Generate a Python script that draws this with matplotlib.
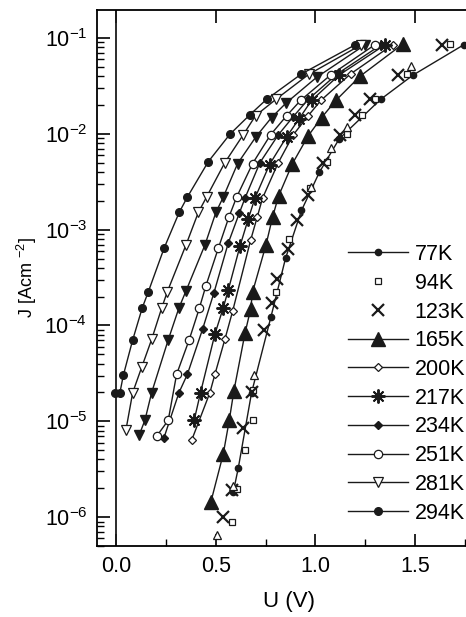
import matplotlib
matplotlib.use("Agg")
import matplotlib.pyplot as plt
from matplotlib.ticker import LogLocator, MultipleLocator, FixedLocator, NullFormatter

plt.rcParams["font.family"] = ["Liberation Sans", "DejaVu Sans"]
plt.rcParams["mathtext.default"] = "regular"

# J-U curves, voltage in V and log10 of current density in A/cm^2
u_294 = [-0.003, 0.02, 0.037, 0.084, 0.132, 0.162, 0.241, 0.317, 0.358, 0.463, 0.571, 0.672, 0.755, 0.93, 1.20]
lg_294 = [-4.70, -4.70, -4.52, -4.15, -3.815, -3.65, -3.195, -2.82, -2.66, -2.29, -2.005, -1.80, -1.64, -1.375, -1.07]

u_281 = [0.05, 0.084, 0.13, 0.179, 0.229, 0.257, 0.351, 0.413, 0.454, 0.546, 0.638, 0.70, 0.802, 0.966, 1.23]
lg_281 = [-5.09, -4.70, -4.43, -4.145, -3.82, -3.65, -3.16, -2.82, -2.66, -2.30, -2.01, -1.81, -1.64, -1.38, -1.07]

u_tri = [0.117, 0.145, 0.179, 0.262, 0.316, 0.351, 0.446, 0.501, 0.538, 0.61, 0.702, 0.78, 0.852, 1.006, 1.25]
lg_tri = [-5.14, -4.99, -4.70, -4.15, -3.815, -3.64, -3.16, -2.82, -2.66, -2.31, -2.03, -1.83, -1.68, -1.41, -1.07]

u_251 = [0.204, 0.262, 0.304, 0.367, 0.418, 0.451, 0.513, 0.566, 0.605, 0.685, 0.775, 0.856, 0.926, 1.076, 1.298]
lg_251 = [-5.155, -4.99, -4.51, -4.15, -3.82, -3.585, -3.195, -2.87, -2.66, -2.31, -2.01, -1.81, -1.65, -1.386, -1.07]

u_234 = [0.241, 0.316, 0.358, 0.434, 0.491, 0.563, 0.618, 0.647, 0.722, 0.814, 0.889, 0.964, 1.109, 1.33]
lg_234 = [-5.17, -4.70, -4.51, -4.04, -3.66, -3.14, -2.83, -2.67, -2.30, -2.01, -1.82, -1.64, -1.375, -1.07]

u_217 = [0.392, 0.424, 0.496, 0.538, 0.563, 0.622, 0.663, 0.697, 0.770, 0.856, 0.919, 0.981, 1.119, 1.35]
lg_217 = [-4.99, -4.70, -4.09, -3.815, -3.63, -3.17, -2.89, -2.67, -2.32, -2.03, -1.84, -1.65, -1.386, -1.07]

u_200 = [0.379, 0.471, 0.496, 0.546, 0.585, 0.675, 0.708, 0.735, 0.814, 0.889, 0.964, 1.028, 1.176, 1.387]
lg_200 = [-5.20, -4.70, -4.51, -4.145, -3.85, -3.11, -2.87, -2.67, -2.30, -2.01, -1.81, -1.65, -1.375, -1.07]

u_165 = [0.476, 0.538, 0.568, 0.591, 0.647, 0.675, 0.685, 0.752, 0.785, 0.815, 0.885, 0.964, 1.031, 1.103, 1.223, 1.44]
lg_165 = [-5.84, -5.34, -4.99, -4.685, -4.08, -3.83, -3.65, -3.16, -2.87, -2.65, -2.31, -2.02, -1.83, -1.65, -1.40, -1.06]

u_123 = [0.538, 0.58, 0.638, 0.68, 0.743, 0.78, 0.805, 0.86, 0.91, 0.964, 1.039, 1.123, 1.198, 1.273, 1.415, 1.632]
lg_123 = [-6.00, -5.72, -5.07, -4.69, -4.05, -3.77, -3.51, -3.20, -2.90, -2.64, -2.30, -2.01, -1.80, -1.64, -1.386, -1.07]

u_94 = [0.580, 0.608, 0.647, 0.685, 0.688, 0.80, 0.87, 0.972, 1.056, 1.156, 1.232, 1.298, 1.457, 1.674]
lg_94 = [-6.05, -5.71, -5.30, -4.99, -4.67, -3.65, -3.10, -2.57, -2.29, -2.00, -1.80, -1.64, -1.38, -1.06]

u_77 = [0.588, 0.613, 0.68, 0.777, 0.85, 0.93, 1.02, 1.12, 1.327, 1.49, 1.744]
lg_77 = [-5.74, -5.49, -4.70, -3.91, -3.30, -2.80, -2.40, -2.05, -1.64, -1.386, -1.07]

u_open_tri = [0.505, 0.585, 0.693, 0.98, 1.08, 1.16, 1.48]
lg_open_tri = [-6.19, -5.68, -4.52, -2.55, -2.15, -1.93, -1.29]

temps = ["77K", "94K", "123K", "165K", "200K", "217K", "234K", "251K", "281K", "294K"]

y_ticks = [1e-6, 1e-5, 1e-4, 1e-3, 1e-2, 1e-1]
y_tick_labels = [r"$10^{-6}$", r"$10^{-5}$", r"$10^{-4}$", r"$10^{-3}$", r"$10^{-2}$", r"$10^{-1}$"]
x_ticks = [0.0, 0.5, 1.0, 1.5]
x_tick_labels = ["0.0", "0.5", "1.0", "1.5"]


def to_j(lg):
    return [10 ** v for v in lg]


fig = plt.figure(figsize=(4.66, 6.17), dpi=100)
ax = fig.add_axes([97 / 466, 71 / 617, 384 / 466, 536 / 617])

lc = "#1a1a1a"
common = dict(color=lc, lw=1.0)

ax.plot(u_77, to_j(lg_77), marker="o", ms=4.5, mfc=lc, mec=lc, label=temps[0], **common)
ax.plot(u_94, to_j(lg_94), ls="none", marker="s", ms=4.5, mfc="white", mec=lc, mew=0.9, label=temps[1])
ax.plot(u_123, to_j(lg_123), ls="none", marker="x", ms=9, mec=lc, mew=1.6, label=temps[2])
ax.plot(u_165, to_j(lg_165), marker="^", ms=10, mfc=lc, mec=lc, label=temps[3], **common)
ax.plot(u_200, to_j(lg_200), marker="D", ms=4.5, mfc="white", mec=lc, mew=0.9, label=temps[4], **common)
ax.plot(u_217, to_j(lg_217), marker=(8, 2, 0), ms=10, mec=lc, mew=1.4, label=temps[5], **common)
ax.plot(u_234, to_j(lg_234), marker="D", ms=4.5, mfc=lc, mec=lc, label=temps[6], **common)
ax.plot(u_251, to_j(lg_251), marker="o", ms=6, mfc="white", mec=lc, mew=0.9, label=temps[7], **common)
ax.plot(u_tri, to_j(lg_tri), marker="v", ms=7, mfc=lc, mec=lc, label="_nolegend_", **common)
ax.plot(u_281, to_j(lg_281), marker="v", ms=7, mfc="white", mec=lc, mew=0.9, label=temps[8], **common)
ax.plot(u_294, to_j(lg_294), marker="o", ms=5.5, mfc=lc, mec=lc, label=temps[9], **common)
ax.plot(u_open_tri, to_j(lg_open_tri), ls="none", marker="^", ms=6, mfc="white", mec=lc, mew=0.9,
        label="_nolegend_")

ax.axvline(0.0, color=lc, lw=1.3)

ax.set_yscale("log")
ax.set_xlim(-0.095, 1.83)
ax.set_ylim(5.0e-7, 0.196)

ax.yaxis.set_major_locator(FixedLocator(y_ticks))
ax.set_yticklabels(y_tick_labels)
ax.yaxis.set_minor_locator(LogLocator(base=10, subs=range(2, 10), numticks=20))
ax.yaxis.set_minor_formatter(NullFormatter())
ax.xaxis.set_major_locator(FixedLocator(x_ticks))
ax.set_xticklabels(x_tick_labels)
ax.xaxis.set_minor_locator(MultipleLocator(0.25))

ax.tick_params(axis="both", which="major", direction="in", labelsize=15.5, width=1.2, pad=7)
ax.tick_params(axis="y", which="major", length=9)
ax.tick_params(axis="y", which="minor", direction="in", length=5, width=1.0)
ax.tick_params(axis="x", which="major", length=9, top=True)
ax.tick_params(axis="x", which="minor", direction="in", length=5, width=1.0, top=False)
for side in ["left", "bottom", "top", "right"]:
    ax.spines[side].set_linewidth(1.3)

ax.set_xlabel("U (V)", fontsize=16, labelpad=10)
ax.set_ylabel(r"J [Acm $^{-2}$]", fontsize=13, labelpad=4)

ax.legend(loc="upper left", bbox_to_anchor=(348 / 466, 1 - 244 / 617), bbox_transform=fig.transFigure,
          frameon=False, fontsize=15.5, numpoints=1, handlelength=2.8, handletextpad=0.3,
          labelspacing=0.36, borderpad=0, borderaxespad=0)

fig.savefig("out.png", dpi=100)
